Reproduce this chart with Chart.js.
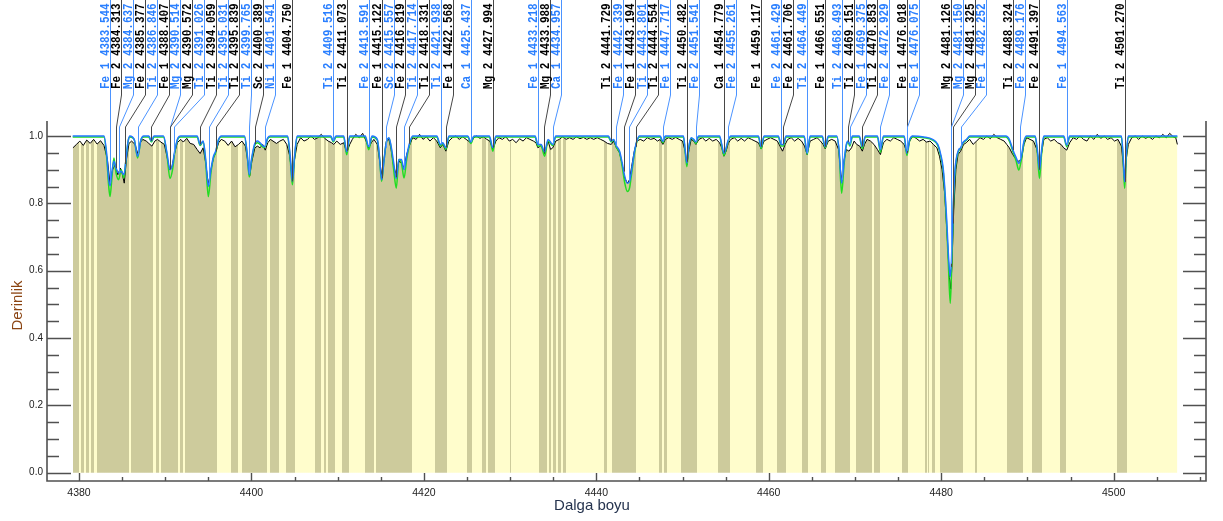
<!DOCTYPE html>
<html>
<head>
<meta charset="utf-8">
<script src="https://cdn.jsdelivr.net/npm/chart.js@4.4.1/dist/chart.umd.min.js"></script>
<style>
  html, body { margin: 0; padding: 0; background: #ffffff; }
  #wrap { width: 1223px; height: 521px; }
</style>
</head>
<body>
<div id="wrap"><canvas id="spec" width="1223" height="521"></canvas></div>
<script>
// ---- axis setup -------------------------------------------------------
const xTickStep = 5;      // minor tick every 5 Å, labelled every 20 Å
const xLabelStep = 20;
const yTickStep = 0.05;   // minor tick every 0.05, labelled every 0.2
const yLabelStep = 0.2;
const xTitle = 'Dalga boyu';
const yTitle = 'Derinlik';

// ---- identified lines (species, ionisation, rest wavelength) ----------
const lineSpecies = [
  'Fe 1','Fe 2','Mg 2','Fe 2','Ti 2','Fe 1','Mg 2','Mg 2','Ti 2','Ti 2',
  'Ti 2','Ti 2','Ti 2','Sc 2','Ni 1','Fe 1','Ti 2','Ti 2','Fe 2','Fe 1',
  'Sc 2','Fe 2','Ti 2','Ti 2','Ti 2','Fe 1','Ca 1','Mg 2','Fe 1','Mg 2',
  'Ca 1','Ti 2','Fe 1','Fe 1','Ti 2','Ti 2','Fe 1','Ti 2','Fe 2','Ca 1',
  'Fe 2','Fe 1','Fe 2','Fe 2','Ti 2','Fe 1','Ti 2','Ti 2','Fe 1','Ti 2',
  'Fe 2','Fe 1','Fe 1','Mg 2','Mg 2','Mg 2','Fe 1','Ti 2','Fe 2','Fe 2',
  'Fe 1','Ti 2'
];
const lineWave = [
  4383.544,4384.313,4384.637,4385.377,4386.846,4388.407,4390.514,4390.572,4391.026,4394.059,
  4395.031,4395.839,4399.765,4400.389,4401.541,4404.750,4409.516,4411.073,4413.591,4415.122,
  4415.557,4416.819,4417.714,4418.331,4421.938,4422.568,4425.437,4427.994,4433.218,4433.988,
  4434.957,4441.729,4442.339,4443.194,4443.801,4444.554,4447.717,4450.482,4451.541,4454.779,
  4455.261,4459.117,4461.429,4461.706,4464.449,4466.551,4468.493,4469.151,4469.375,4470.853,
  4472.929,4476.018,4476.075,4481.126,4481.150,4481.325,4482.252,4488.324,4489.176,4491.397,
  4494.563,4501.270
];

// ---- wavelength windows used in the fit (darker bands) ---------------
const maskBands = [
  [4379.27,4380.03],[4380.27,4380.61],[4380.81,4381.13],[4381.36,4381.77],[4382.12,4385.76],
  [4386.00,4388.62],[4388.90,4389.31],[4389.51,4391.45],[4391.71,4392.03],[4392.29,4396.04],
  [4397.66,4398.44],[4398.91,4401.84],[4402.15,4403.16],[4404.01,4405.02],[4407.34,4408.03],
  [4408.42,4408.65],[4408.88,4409.66],[4410.50,4411.32],[4413.21,4414.21],[4414.45,4418.59],
  [4421.29,4422.65],[4425.04,4425.58],[4426.71,4427.21],[4427.47,4428.25],[4430.02,4430.12],
  [4433.35,4434.24],[4434.51,4434.71],[4435.01,4435.32],[4435.59,4435.87],[4436.17,4436.45],
  [4440.89,4441.27],[4441.78,4444.60],[4447.23,4447.65],[4447.81,4448.16],[4449.79,4451.71],
  [4454.15,4455.50],[4458.52,4459.30],[4460.99,4462.00],[4463.82,4464.55],[4466.02,4466.64],
  [4467.68,4469.42],[4470.08,4471.94],[4472.21,4472.90],[4475.42,4476.11],[4478.12,4478.32],
  [4478.43,4478.59],[4478.90,4479.28],[4479.86,4482.56],[4483.95,4484.19],[4487.63,4489.45],
  [4490.53,4491.66],[4493.81,4494.44],[4500.35,4501.52]
];

// ---- synthetic spectra: wavelength grid, best model (blue), fit (green)
const modelWave = [
  4379.27,4382.9,
  4383.2,4383.45,4383.6,4383.8,4384.05,4384.3,4384.6,4384.9,4385.2,4385.45,4385.7,4385.9,
  4386.4,4386.8,4387.2,4387.5,
  4388.1,4388.4,4388.7,
  4389.8,4390.2,4390.55,4390.85,4391.1,4391.5,4391.8,
  4393.7,4394.05,4394.4,4394.7,4395.0,4395.3,4395.6,4395.85,4396.2,4396.5,
  4399.2,4399.5,4399.75,4400.0,4400.35,4400.7,4401.0,4401.5,4401.9,4402.2,
  4404.2,4404.5,4404.75,4405.0,4405.3,
  4409.2,4409.5,4409.8,4410.7,4411.05,4411.4,
  4413.2,4413.6,4414.0,4414.6,4414.85,4415.1,4415.35,4415.6,4415.95,
  4416.2,4416.5,4416.8,4417.1,4417.4,4417.7,4418.0,4418.3,4418.7,
  4421.5,4421.9,4422.2,4422.55,4422.9,
  4425.1,4425.45,4425.8,4427.6,4428.0,4428.35,
  4432.9,4433.22,4433.6,4434.0,4434.4,4434.95,4435.3,
  4441.4,4441.73,4442.0,4442.34,4442.7,4443.0,4443.3,4443.6,4443.85,4444.1,4444.4,4444.7,4445.0,
  4447.4,4447.72,4448.0,
  4450.1,4450.3,4450.5,4450.7,4451.0,4451.3,4451.55,4451.85,
  4454.3,4454.55,4454.8,4455.0,4455.26,4455.6,
  4458.8,4459.12,4459.45,
  4461.1,4461.45,4461.7,4462.0,
  4464.1,4464.45,4464.8,
  4466.2,4466.55,4466.9,
  4467.9,4468.15,4468.45,4468.75,4469.0,4469.2,4469.4,4469.7,
  4470.5,4470.85,4471.2,
  4472.6,4472.95,4473.3,
  4475.7,4476.02,4476.35,4476.7,4478.0,4479.0,
  4479.6,4479.9,4480.25,4480.64,4480.83,4481.05,4481.2,4481.4,4481.6,4482.0,4482.25,4482.5,4482.95,4483.3,
  4487.5,4487.9,4488.3,4488.7,4489.0,4489.3,4489.6,4489.9,
  4490.9,4491.15,4491.4,4491.65,4491.9,
  4494.2,4494.56,4494.9,
  4500.9,4501.1,4501.27,4501.45,4501.7,4507.39
];
const modelFlux = [
  1,1,
  .95,.87,.852,.89,.925,.905,.89,.895,.885,.93,.985,1,
  .99,.94,.99,1,
  1,.985,1,
  1,.95,.9,.915,.955,.995,1,
  1,.975,.985,.93,.85,.9,.94,.955,.99,1,
  1,.95,.885,.93,.975,.985,.98,.968,.995,1,
  1,.94,.865,.94,1,
  1,.985,1,1,.953,1,
  1,.968,1,.99,.94,.87,.92,.975,.995,
  .97,.92,.874,.93,.93,.9,.94,.975,1,
  1,.975,.98,.965,1,
  1,.982,1,1,.965,1,
  1,.975,.975,.953,.99,.975,1,
  1,.985,.99,.97,.955,.92,.88,.86,.865,.9,.95,.985,1,
  1,.984,1,
  1,.96,.92,.965,.995,.99,.982,1,
  1,.975,.949,.96,.985,1,
  1,.968,1,
  1,.975,.975,1,
  1,.949,1,
  1,.968,1,
  1,.96,.86,.93,.975,.985,.975,1,
  1,.968,1,
  1,.959,1,
  1,.949,.99,1,.997,.99,
  .975,.95,.899,.75,.65,.582,.64,.8,.9,.958,.965,.98,.99,1,
  1,.99,.96,.935,.919,.94,.985,1,
  1,.96,.899,.96,1,
  1,.973,1,
  1,.94,.864,.94,1,1
];
const fitFlux = [
  .997,.997,
  .94,.85,.82,.87,.935,.89,.87,.9,.875,.93,.985,.997,
  .99,.935,.99,.997,
  .997,.982,.997,
  .997,.945,.874,.9,.95,.993,.997,
  .997,.972,.983,.92,.82,.89,.935,.95,.99,.997,
  .997,.945,.878,.925,.97,.98,.975,.965,.993,.997,
  .997,.93,.855,.935,.997,
  .997,.982,.997,.997,.944,.997,
  .997,.959,.997,.988,.935,.865,.92,.975,.993,
  .965,.9,.845,.93,.92,.875,.93,.97,.997,
  .997,.97,.978,.96,.997,
  .997,.978,.997,.997,.955,.997,
  .997,.97,.97,.94,.985,.972,.997,
  .997,.982,.988,.965,.95,.91,.86,.835,.845,.89,.945,.983,.997,
  .997,.98,.997,
  .997,.955,.909,.96,.993,.988,.978,.997,
  .997,.97,.942,.955,.982,.997,
  .997,.962,.997,
  .997,.97,.97,.997,
  .997,.945,.997,
  .997,.965,.997,
  .997,.955,.83,.92,.972,.982,.97,.997,
  .997,.962,.997,
  .997,.952,.997,
  .997,.942,.988,.997,.995,.988,
  .972,.945,.89,.73,.62,.503,.6,.78,.89,.955,.962,.978,.988,.997,
  .997,.985,.955,.925,.899,.93,.98,.997,
  .997,.95,.874,.95,.997,
  .997,.968,.997,
  .997,.93,.845,.93,.997,.997
];

// ---- observed spectrum [wavelength, normalised flux] ------------------
const observed = [
  [4379.3,.965],[4379.7,.975],[4380.1,.985],[4380.5,.972],[4380.9,.988],[4381.3,.978],[4381.7,.99],[4382.1,.976],[4382.5,.986],[4382.9,.972],
  [4383.3,.93],[4383.6,.858],[4383.9,.9],[4384.2,.915],[4384.5,.885],[4384.8,.905],[4385.0,.89],[4385.25,.86],[4385.5,.93],[4385.8,.978],[4386.1,.985],[4386.5,.975],[4386.85,.945],[4387.1,.98],
  [4387.4,.99],[4387.8,.985],[4388.1,.978],[4388.45,.97],[4388.8,.985],[4389.1,.99],[4389.5,.982],[4389.9,.975],[4390.2,.94],[4390.5,.9],[4390.8,.91],[4391.1,.95],
  [4391.4,.98],[4391.8,.99],[4392.1,.982],[4392.5,.993],[4392.9,.978],[4393.3,.975],[4393.7,.96],[4394.05,.948],[4394.4,.965],[4394.7,.92],[4395.0,.855],[4395.3,.9],
  [4395.6,.935],[4395.9,.955],[4396.2,.98],[4396.5,.99],[4396.9,.985],[4397.3,.972],[4397.7,.985],[4398.1,.968],[4398.5,.975],[4398.9,.985],
  [4399.3,.97],[4399.55,.93],[4399.8,.882],[4400.05,.925],[4400.4,.965],[4400.7,.97],[4401.0,.965],[4401.3,.975],[4401.6,.958],[4401.9,.98],[4402.2,.99],[4402.5,.985],[4402.9,.978],
  [4403.3,.985],[4403.7,.99],[4404.1,.975],[4404.45,.94],[4404.75,.87],[4405.0,.93],[4405.3,.975],[4405.7,.995],[4406.1,.985],[4406.5,.99],[4406.9,1.0],
  [4407.3,.99],[4407.7,.995],[4408.1,1.005],[4408.5,.993],[4408.9,.985],[4409.3,.98],[4409.55,.975],[4409.9,.985],[4410.3,.975],[4410.7,.98],[4411.05,.95],
  [4411.4,.975],[4411.7,.99],[4412.1,1.005],[4412.5,.995],[4412.9,1.008],[4413.3,.985],[4413.6,.965],[4413.9,.98],[4414.2,.99],[4414.6,.975],[4414.85,.93],
  [4415.1,.885],[4415.35,.925],[4415.65,.985],[4415.95,.99],[4416.2,.96],[4416.5,.91],[4416.8,.885],[4417.1,.925],[4417.4,.92],[4417.7,.905],[4418.0,.945],[4418.3,.97],[4418.7,.995],
  [4419.1,.99],[4419.5,1.005],[4419.9,.99],[4420.3,.998],[4420.7,.985],[4421.1,.995],[4421.5,.985],[4421.9,.965],[4422.2,.975],[4422.55,.955],[4422.9,.985],
  [4423.3,.995],[4423.7,1.0],[4424.1,.99],[4424.5,.998],[4424.9,.99],[4425.45,.98],[4425.8,.995],[4426.1,1.0],[4426.5,.993],[4426.9,.998],
  [4427.3,.99],[4427.65,.985],[4428.0,.96],[4428.35,.985],[4428.7,.995],[4429.1,.99],[4429.5,.998],[4429.9,.985],[4430.3,.99],[4430.7,.98],
  [4431.1,.992],[4431.5,.985],[4431.9,.995],[4432.3,.99],[4432.7,.985],[4433.0,.98],[4433.22,.965],[4433.6,.972],[4434.0,.948],[4434.4,.985],[4434.7,.96],[4434.95,.965],[4435.3,.985],
  [4435.7,.99],[4436.1,.998],[4436.5,.99],[4436.9,.995],[4437.3,.99],[4437.7,.998],[4438.1,.992],[4438.5,.996],[4438.9,.99],
  [4439.3,.995],[4439.7,.99],[4440.1,.995],[4440.5,.99],[4440.9,.985],[4441.3,.978],[4441.73,.975],[4442.0,.985],[4442.34,.965],[4442.7,.95],[4443.0,.915],
  [4443.3,.875],[4443.6,.86],[4443.85,.87],[4444.1,.91],[4444.4,.955],[4444.7,.985],[4445.1,.99],[4445.5,.985],[4445.9,.995],[4446.3,.99],[4446.7,.993],
  [4447.1,.985],[4447.4,.99],[4447.72,.975],[4448.0,.99],[4448.4,.995],[4448.8,.99],[4449.2,.996],[4449.6,.99],[4450.0,.985],[4450.3,.955],[4450.5,.915],[4450.75,.96],
  [4451.0,.99],[4451.3,.985],[4451.55,.975],[4451.9,.99],[4452.3,.995],[4452.7,.985],[4453.1,.993],[4453.5,.985],[4453.9,.99],[4454.3,.98],[4454.55,.965],[4454.8,.94],
  [4455.05,.955],[4455.3,.978],[4455.6,.99],[4456.0,.995],[4456.4,.985],[4456.8,.993],[4457.2,.985],[4457.6,.995],[4458.0,.99],[4458.4,.985],[4458.8,.98],
  [4459.12,.962],[4459.45,.985],[4459.8,.99],[4460.2,.995],[4460.6,.99],[4461.0,.985],[4461.3,.97],[4461.6,.955],[4461.9,.975],[4462.2,.99],[4462.6,.995],[4463.0,.985],
  [4463.4,.993],[4463.8,.985],[4464.15,.97],[4464.45,.945],[4464.8,.985],[4465.2,.99],[4465.6,.995],[4466.0,.985],[4466.3,.975],[4466.55,.962],[4466.9,.985],
  [4467.3,.99],[4467.7,.985],[4468.1,.96],[4468.45,.865],[4468.75,.93],[4469.0,.96],[4469.3,.955],[4469.6,.965],[4469.9,.985],[4470.2,.975],[4470.55,.97],[4470.85,.955],
  [4471.1,.975],[4471.4,.99],[4471.8,.985],[4472.2,.975],[4472.6,.96],[4472.95,.945],[4473.3,.98],[4473.7,.99],[4474.1,.985],[4474.5,.995],[4474.9,.99],
  [4475.3,.985],[4475.7,.975],[4476.02,.95],[4476.35,.985],[4476.7,1.0],[4477.1,.993],[4477.5,.985],[4477.9,.99],[4478.3,.982],[4478.7,.985],[4479.1,.975],
  [4479.5,.965],[4479.8,.94],[4480.1,.9],[4480.4,.83],[4480.7,.7],[4480.95,.58],[4481.1,.545],[4481.25,.62],[4481.45,.78],[4481.7,.9],[4481.95,.945],[4482.25,.955],[4482.6,.975],[4482.9,.98],
  [4483.3,.99],[4483.7,.975],[4484.1,.985],[4484.5,.995],[4484.9,.99],[4485.3,1.0],[4485.7,.992],[4486.1,1.005],[4486.5,.995],[4486.9,.99],
  [4487.3,.985],[4487.6,.975],[4487.9,.965],[4488.3,.945],[4488.7,.93],[4489.0,.925],[4489.3,.93],[4489.6,.975],[4489.9,.995],[4490.3,.99],[4490.7,.985],
  [4491.1,.96],[4491.4,.905],[4491.65,.95],[4491.9,.99],[4492.3,.995],[4492.7,.985],[4493.1,.99],[4493.5,.98],[4493.9,.975],[4494.2,.965],[4494.56,.958],[4494.9,.98],
  [4495.3,.995],[4495.7,.99],[4496.1,1.0],[4496.5,.99],[4496.9,.985],[4497.3,1.0],[4497.7,.99],[4498.1,1.005],[4498.5,.993],[4498.9,1.0],
  [4499.3,.99],[4499.7,.995],[4500.1,.985],[4500.5,.99],[4500.9,.97],[4501.1,.92],[4501.27,.865],[4501.45,.93],[4501.7,.975],[4502.1,.995],[4502.5,1.0],[4502.9,.99],
  [4503.3,1.0],[4503.7,.993],[4504.1,.998],[4504.5,.99],[4504.9,1.0],[4505.3,.995],[4505.7,1.005],[4506.1,.995],[4506.5,1.008],[4506.9,.998],[4507.2,.995],[4507.39,.975]
];

// ---- styling ----------------------------------------------------------
const BAND_DARK = '#cdcb9c';
const BAND_LIGHT = '#fffdcc';
const AXIS_COLOR = '#505050';
const LABEL_BLUE = '#2a7fff';
const LINK_BLUE = '#4b93ff';
const LINK_DARK = '#474747';

// model flux at a given wavelength (used to end the label leaders on the profile)
function modelAt(w) {
  if (w <= modelWave[0]) return modelFlux[0];
  for (let i = 1; i < modelWave.length; i++) {
    if (w <= modelWave[i]) {
      const t = (w - modelWave[i - 1]) / (modelWave[i] - modelWave[i - 1]);
      return modelFlux[i - 1] + t * (modelFlux[i] - modelFlux[i - 1]);
    }
  }
  return modelFlux[modelFlux.length - 1];
}

// horizontal gradient with hard stops: dark inside fitted windows, light elsewhere
function bandFill(context) {
  const chart = context.chart;
  const xs = chart.scales && chart.scales.x;
  if (!chart.chartArea || !xs) return BAND_LIGHT;
  const left = xs.left, w = xs.right - xs.left;
  const g = chart.ctx.createLinearGradient(left, 0, xs.right, 0);
  const off = v => Math.min(1, Math.max(0, (xs.getPixelForValue(v) - left) / w));
  g.addColorStop(0, BAND_LIGHT);
  for (const [a, b] of maskBands) {
    const oa = off(a), ob = off(b);
    g.addColorStop(oa, BAND_LIGHT);
    g.addColorStop(oa, BAND_DARK);
    g.addColorStop(ob, BAND_DARK);
    g.addColorStop(ob, BAND_LIGHT);
  }
  g.addColorStop(1, BAND_LIGHT);
  return g;
}

const isMultiple = (v, step) => Math.abs(v / step - Math.round(v / step)) < 1e-6;

// axis frame, inward ticks, line identifications and axis titles
const decorations = {
  id: 'decorations',
  afterDatasetsDraw(chart) {
    const { ctx, chartArea: ca, scales: { x, y } } = chart;
    ctx.save();

    // frame: left, bottom, right
    ctx.strokeStyle = AXIS_COLOR;
    ctx.lineWidth = 1.6;
    ctx.beginPath();
    ctx.moveTo(ca.left, ca.top); ctx.lineTo(ca.left, ca.bottom);
    ctx.lineTo(ca.right, ca.bottom); ctx.lineTo(ca.right, ca.top);
    ctx.stroke();

    // y ticks on both sides
    ctx.lineWidth = 1.4;
    ctx.beginPath();
    for (const t of y.ticks) {
      const py = Math.round(y.getPixelForValue(t.value)) + 0.5;
      const major = isMultiple(t.value, yLabelStep);
      ctx.moveTo(ca.left, py); ctx.lineTo(ca.left + (major ? 24 : 12), py);
      ctx.moveTo(ca.right, py); ctx.lineTo(ca.right - (major ? 23 : 12), py);
    }
    // x ticks pointing up
    for (const t of x.ticks) {
      const px = Math.round(x.getPixelForValue(t.value)) + 0.5;
      const major = isMultiple(t.value, xLabelStep);
      ctx.moveTo(px, ca.bottom); ctx.lineTo(px, ca.bottom - (major ? 8 : 4));
    }
    ctx.stroke();

    // line identifications: labels spread to the right so they do not overlap
    const gap = 11.8, kinkTop = 95, kinkBottom = 127, textBottom = 89;
    ctx.font = 'bold 12px "Liberation Mono", monospace';
    ctx.textAlign = 'left';
    ctx.textBaseline = 'alphabetic';
    let prev = -Infinity;
    lineWave.forEach((w, i) => {
      const wx = x.getPixelForValue(w);
      const lx = Math.max(wx, prev + gap);
      prev = lx;
      const blue = i % 2 === 0;
      const ax = Math.round(lx) + 0.5, bx = Math.round(wx) + 0.5;
      const yEnd = y.getPixelForValue(modelAt(w));
      ctx.strokeStyle = blue ? LINK_BLUE : LINK_DARK;
      ctx.lineWidth = 1;
      ctx.beginPath();
      ctx.moveTo(ax, 0);
      ctx.lineTo(ax, kinkTop);
      ctx.lineTo(bx, kinkBottom);
      ctx.lineTo(bx, yEnd);
      ctx.stroke();

      ctx.save();
      ctx.translate(Math.round(lx) - 1, textBottom);
      ctx.rotate(-Math.PI / 2);
      ctx.scale(0.915, 1);
      ctx.fillStyle = blue ? LABEL_BLUE : '#000000';
      ctx.fillText(lineSpecies[i] + ' ' + w.toFixed(3), 0, 0);
      ctx.restore();
    });

    // axis titles
    ctx.font = '15px "Liberation Sans", Arial, sans-serif';
    ctx.textAlign = 'center';
    ctx.textBaseline = 'alphabetic';
    ctx.fillStyle = '#26344f';
    ctx.fillText(xTitle, 592, 510);
    ctx.save();
    ctx.translate(21.5, 305.5);
    ctx.rotate(-Math.PI / 2);
    ctx.fillStyle = '#8b4513';
    ctx.fillText(yTitle, 0, 0);
    ctx.restore();

    ctx.restore();
  }
};

const toPoints = (ws, fs) => ws.map((w, i) => ({ x: w, y: fs[i] }));

new Chart(document.getElementById('spec'), {
  type: 'line',
  data: {
    datasets: [
      {
        label: 'Gözlem',
        data: observed.map(([w, f]) => ({ x: w, y: f })),
        borderColor: '#000000',
        borderWidth: 1,
        backgroundColor: bandFill,
        fill: 'origin',
        tension: 0,
        order: 3
      },
      {
        label: 'Uyum',
        data: toPoints(modelWave, fitFlux),
        borderColor: '#22dd22',
        borderWidth: 1.5,
        fill: false,
        cubicInterpolationMode: 'monotone',
        order: 2
      },
      {
        label: 'Model',
        data: toPoints(modelWave, modelFlux),
        borderColor: '#2277ff',
        borderWidth: 1.5,
        fill: false,
        cubicInterpolationMode: 'monotone',
        order: 1
      }
    ]
  },
  options: {
    responsive: false,
    animation: false,
    devicePixelRatio: 1,
    layout: { padding: { top: 121, right: 17, bottom: 0, left: 0 } },
    elements: { point: { radius: 0, hoverRadius: 0 } },
    plugins: { legend: { display: false }, tooltip: { enabled: false } },
    scales: {
      x: {
        type: 'linear',
        position: 'bottom',
        min: 4376.29,
        max: 4510.71,
        afterFit: s => { s.height = 40; },
        border: { display: false },
        grid: { display: false, drawTicks: false },
        ticks: {
          stepSize: xTickStep,
          includeBounds: false,
          autoSkip: false,
          maxRotation: 0,
          padding: 6,
          color: '#222222',
          font: { family: '"Liberation Sans", Arial, sans-serif', size: 10.5 },
          callback: v => isMultiple(v, xLabelStep) ? String(Math.round(v)) : ''
        }
      },
      y: {
        type: 'linear',
        position: 'left',
        min: -0.0247,
        max: 1.0446,
        afterFit: s => { s.width = 47; },
        border: { display: false },
        grid: { display: false, drawTicks: false },
        ticks: {
          stepSize: yTickStep,
          includeBounds: false,
          autoSkip: false,
          padding: 4,
          color: '#222222',
          font: { family: '"Liberation Sans", Arial, sans-serif', size: 10 },
          callback: v => isMultiple(v, yLabelStep) ? v.toFixed(1) : ''
        }
      }
    }
  },
  plugins: [decorations]
});
</script>
</body>
</html>
